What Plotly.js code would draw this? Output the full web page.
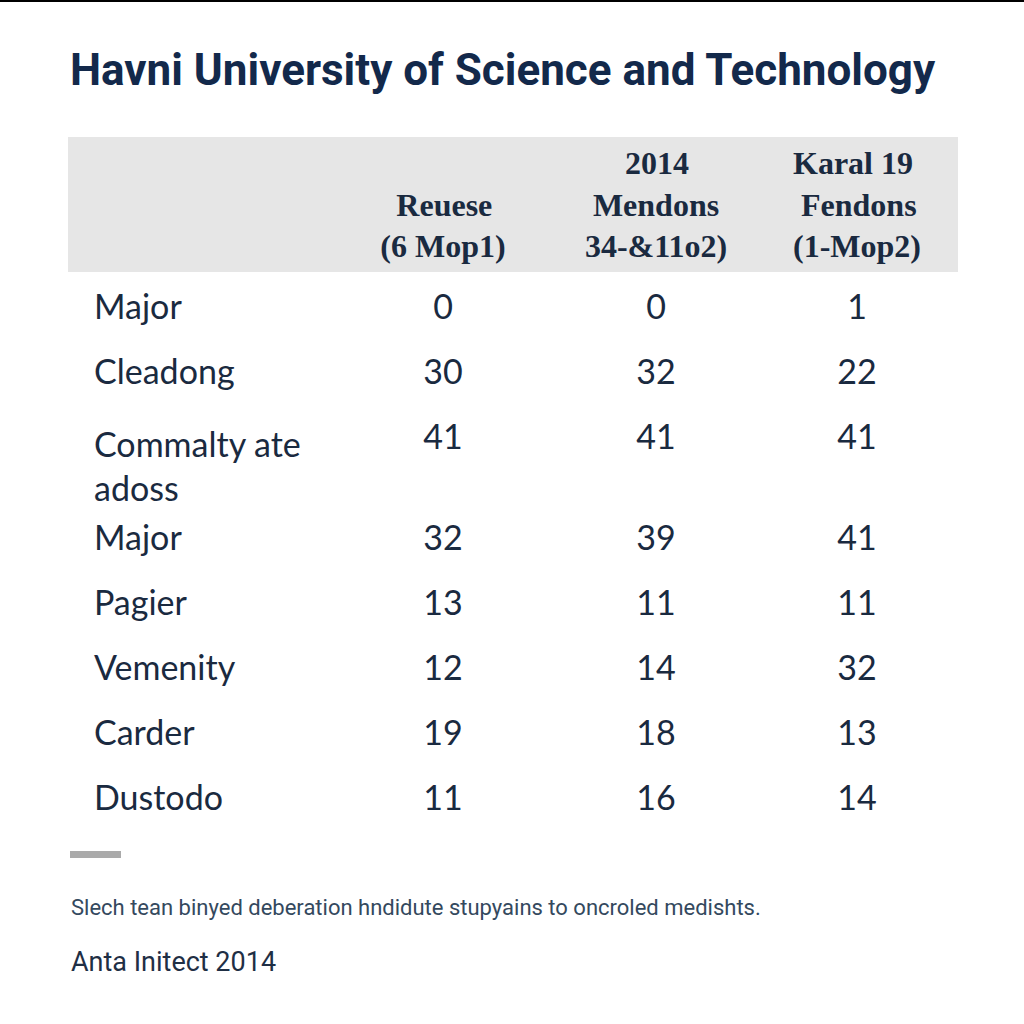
<!DOCTYPE html>
<html>
<head>
<meta charset="utf-8">
<script src="https://cdn.plot.ly/plotly-3.0.1.min.js"></script>
<style>html,body{margin:0;padding:0;background:#fff;}#chart{width:1024px;height:1024px;}</style>
</head>
<body>
<div id="chart"></div>
<script>
const chartTitle = "Havni University of Science and Technology";
const headers = ["", "&nbsp;<br>&nbsp;&nbsp;Reuese<br>(6 Mop1)", "&nbsp;&nbsp;&nbsp;&nbsp;&nbsp;2014<br>&nbsp;Mendons<br>34-&11o2)", "Karal 19<br>&nbsp;Fendons<br>(1-Mop2)"];
const rowLabels = ["Major", "Cleadong", "Commalty ate<br>adoss", "Major", "Pagier", "Vemenity", "Carder", "Dustodo"];
const reuese = [0, 30, 41, 32, 13, 12, 19, 11];
const mendons = [0, 32, 41, 39, 11, 14, 18, 16];
const fendons = [1, 22, 41, 41, 11, 32, 13, 14];
const noteText = "Slech tean binyed deberation hndidute stupyains to oncroled medishts.";
const sourceText = "Anta Initect 2014";

const W = 1024, H = 1024;
const px = v => v / W;
const py = v => 1 - v / H;
const navy = "#1a2a40";
const clear = "rgba(0,0,0,0)";

const table = {
  type: "table",
  domain: {x: [px(86), px(958)], y: [py(845), py(137)]},
  columnwidth: [244, 226, 200, 202],
  header: {
    values: headers,
    align: ["left", "center", "center", "center"],
    height: 148,
    fill: {color: clear},
    line: {color: clear, width: 0},
    font: {family: "Liberation Serif, DejaVu Serif, serif", size: 32, weight: 700, color: navy}
  },
  cells: {
    values: [rowLabels, reuese, mendons, fendons],
    align: ["left", "center", "center", "center"],
    height: 65,
    fill: {color: clear},
    line: {color: clear, width: 0},
    font: {family: "Lato, Roboto, sans-serif", size: 34, color: navy}
  }
};

const layout = {
  width: W, height: H,
  margin: {l: 0, r: 0, t: 0, b: 0},
  paper_bgcolor: "#ffffff",
  showlegend: false,
  title: {
    text: "<b>" + chartTitle + "</b>",
    x: px(70), xanchor: "left", xref: "paper",
    y: py(70), yanchor: "middle", yref: "paper",
    font: {family: "Roboto, sans-serif", size: 44, color: "#13294b"}
  },
  shapes: [
    {type: "rect", layer: "below", xref: "paper", yref: "paper", x0: px(68), x1: px(958), y0: py(272), y1: py(137), fillcolor: "#e6e6e6", line: {width: 0}},
    {type: "line", xref: "paper", yref: "paper", x0: 0, x1: 1, y0: py(1), y1: py(1), line: {color: "#000", width: 2}},
    {type: "rect", xref: "paper", yref: "paper", x0: px(70), x1: px(121), y0: py(851), y1: py(858), fillcolor: "#aaaaaa", line: {width: 0}}
  ],
  annotations: [
    {text: noteText, xref: "paper", yref: "paper", x: px(69), y: py(907), xanchor: "left", yanchor: "middle", showarrow: false,
     font: {family: "Roboto, sans-serif", size: 22, color: "#34495e"}},
    {text: sourceText, xref: "paper", yref: "paper", x: px(69), y: py(962), xanchor: "left", yanchor: "middle", showarrow: false,
     font: {family: "Roboto, sans-serif", size: 27, color: "#1f2f45"}}
  ]
};

Plotly.newPlot("chart", [table], layout, {displayModeBar: false, staticPlot: true});
</script>
</body>
</html>
